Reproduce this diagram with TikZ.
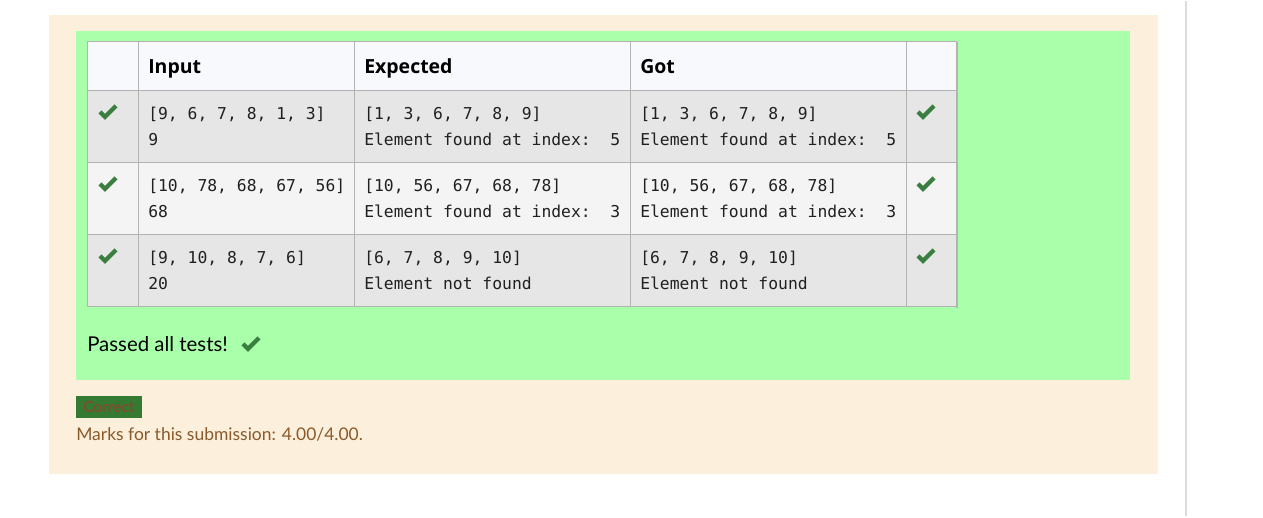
\documentclass[tikz,border=0pt]{standalone}
\usepackage{fontspec}
\setmainfont{Lato}
\newfontfamily\hdrf{Open Sans}
\newfontfamily\monof{DejaVu Sans Mono}[WordSpace={1,0,0}]
\definecolor{pagebg}{HTML}{FFFFFF}
\definecolor{beige}{HTML}{FCEFDC}
\definecolor{passgreen}{HTML}{AAFFAA}
\definecolor{tblborder}{HTML}{B3B3B3}
\definecolor{hdrbg}{HTML}{F8F9FC}
\definecolor{rowdark}{HTML}{E6E6E6}
\definecolor{rowlight}{HTML}{F4F4F4}
\definecolor{chkgreen}{HTML}{3A7F40}
\definecolor{badgegreen}{HTML}{357A32}
\definecolor{badgetext}{HTML}{7E4E2C}
\definecolor{markstext}{HTML}{8A5A2A}
\definecolor{monotext}{HTML}{202020}
\definecolor{sideline}{HTML}{DCDCDC}
\begin{document}
\begin{tikzpicture}[x=0.75pt,y=-0.75pt,
  hdr/.style={font=\hdrf\fontsize{14.6}{18}\selectfont\bfseries, anchor=base west, inner sep=0pt},
  mono/.style={font=\monof\fontsize{12.27}{15}\selectfont, anchor=base west, inner sep=0pt, text=monotext},
  tline/.style={draw=tblborder, line width=0.75pt},
  chkmark/.pic={\draw[chkgreen, line width=3.2pt, line join=miter, line cap=butt] (-8,0) -- (-3,5) -- (8,-6);}
]
% page and panels
\fill[pagebg] (0,0) rectangle (1263,517);
\draw[sideline, line width=1.2pt] (1186,0) -- (1186,515);
\fill[beige] (49,14) rectangle (1158,473);
\fill[passgreen] (76,30) rectangle (1130,379);
% table backgrounds
\fill[hdrbg] (87,41) rectangle (957,90);
\fill[rowdark] (87,90) rectangle (957,162);
\fill[rowlight] (87,162) rectangle (957,234);
\fill[rowdark] (87,234) rectangle (957,306);
% table grid
\foreach \yy in {41,90,162,234,306} \draw[tline] (87,\yy) -- (957,\yy);
\foreach \xx in {87,138,354,630,906} \draw[tline] (\xx,41) -- (\xx,306);
\draw[tblborder, line width=1.5pt] (957,41) -- (957,307);
% header
\node[hdr] (hin) at (148,73) {Input};
\node[hdr] (hexp) at (364,73) {Expected};
\node[hdr] (hgot) at (640,73) {Got};
% row 1
\pic at (108,111) {chkmark};
\node[mono] (r1a) at (148,119) {[9, 6, 7, 8, 1, 3]};
\node[mono] (r1b) at (148,145) {9};
\node[mono] (r1c) at (364,119) {[1, 3, 6, 7, 8, 9]};
\node[mono] (r1d) at (364,145) {Element found at index:~~5};
\node[mono] (r1e) at (640,119) {[1, 3, 6, 7, 8, 9]};
\node[mono] (r1f) at (640,145) {Element found at index:~~5};
\pic at (926,111) {chkmark};
% row 2
\pic at (108,183) {chkmark};
\node[mono] (r2a) at (148,191) {[10, 78, 68, 67, 56]};
\node[mono] (r2b) at (148,217) {68};
\node[mono] (r2c) at (364,191) {[10, 56, 67, 68, 78]};
\node[mono] (r2d) at (364,217) {Element found at index:~~3};
\node[mono] (r2e) at (640,191) {[10, 56, 67, 68, 78]};
\node[mono] (r2f) at (640,217) {Element found at index:~~3};
\pic at (926,183) {chkmark};
% row 3
\pic at (108,255) {chkmark};
\node[mono] (r3a) at (148,263) {[9, 10, 8, 7, 6]};
\node[mono] (r3b) at (148,289) {20};
\node[mono] (r3c) at (364,263) {[6, 7, 8, 9, 10]};
\node[mono] (r3d) at (364,289) {Element not found};
\node[mono] (r3e) at (640,263) {[6, 7, 8, 9, 10]};
\node[mono] (r3f) at (640,289) {Element not found};
\pic at (926,255) {chkmark};
% passed
\node[font=\fontsize{15.3}{19}\selectfont, anchor=base west, inner sep=0pt] (passed) at (87,351) {Passed all tests!};
\pic at (251,343) {chkmark};
% badge
\fill[badgegreen] (76,395) rectangle (142,417);
\node[font=\fontsize{11.5}{13}\selectfont\bfseries, text=badgetext, inner sep=0pt] (badge) at (109,406.5) {Correct};
% marks
\node[font=\fontsize{13.1}{16}\selectfont, text=markstext, anchor=base west, inner sep=0pt] (marks) at (76,440) {Marks for this submission: 4.00/4.00.};
\end{tikzpicture}
\end{document}
